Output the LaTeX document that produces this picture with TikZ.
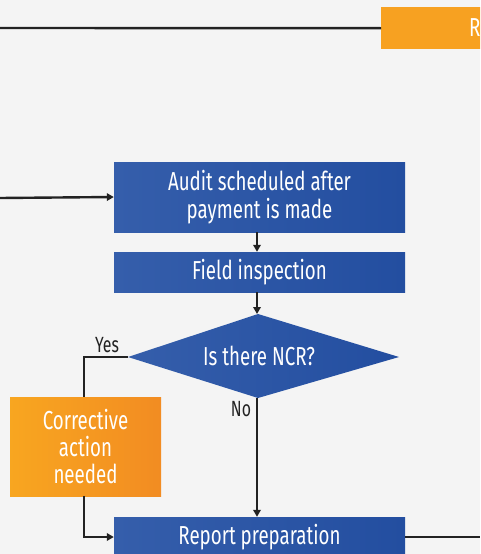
\documentclass[tikz,border=0pt]{standalone}
\usepackage{fontspec}
\setmainfont{Fira Sans}[FakeStretch=0.72]
\usetikzlibrary{arrows.meta,positioning}
\definecolor{bg}{RGB}{244,244,244}
\definecolor{blueL}{RGB}{53,94,171}
\definecolor{blueR}{RGB}{35,78,160}
\definecolor{orL}{RGB}{248,166,32}
\definecolor{orR}{RGB}{242,140,34}
\definecolor{orTop}{RGB}{247,161,33}
\definecolor{ink}{RGB}{34,34,34}
\tikzset{
  bluebox/.style={rectangle, left color=blueL, right color=blueR, draw=none,
    text=white, align=center, font=\fontsize{26}{28}\selectfont, inner sep=0pt},
  orangebox/.style={rectangle, left color=orL, right color=orR, draw=none,
    text=white, align=center, font=\fontsize{26}{27}\selectfont, inner sep=0pt},
  conn/.style={draw=ink, line width=2.4pt},
  arr/.style={conn, -{Triangle[length=7pt,width=7.5pt]}},
  lbl/.style={text=ink, font=\fontsize{22}{24}\selectfont, inner sep=0pt}
}
\begin{document}
\begin{tikzpicture}[x=1pt,y=1pt]
\useasboundingbox (0,0) rectangle (480,-554);
\clip (0,0) rectangle (480,-554);
\fill[bg] (0,0) rectangle (480,-554);

% top right orange box (cut off)
\node[rectangle, fill=orTop, minimum width=120pt, minimum height=42pt, anchor=north west, inner sep=0pt] (top) at (381,-7) {};
\node[text=white, font=\fontsize{26}{28}\selectfont, anchor=west, inner sep=0pt] (toptext) at (469,-28) {R};
\coordinate (topin) at (0,-28);
\draw[conn] (topin) -- (top.west);

% main boxes
\node[bluebox, minimum width=291pt, minimum height=70pt] (audit) at (259.5,-197) {Audit scheduled after\\payment is made};
\coordinate (auditin) at (0,-198);
\draw[arr] (auditin) -- (audit.west);

\node[bluebox, minimum width=291pt, minimum height=40pt] (field) at (259.5,-272) {Field inspection};
\draw[arr] (audit.south -| 257,0) -- (field.north -| 257,0);

% decision diamond
\coordinate (dT) at (258,-314);
\coordinate (dB) at (258,-398);
\coordinate (dL) at (128,-357);
\coordinate (dR) at (399,-357);
\shade[left color=blueL, right color=blueR] (dT) -- (dR) -- (dB) -- (dL) -- cycle;
\node[text=white, font=\fontsize{26}{28}\selectfont, inner sep=0pt] (ncr) at (259,-356) {Is there NCR?};
\draw[arr] (field.south -| 257,0) -- (dT -| 257,0);

% corrective action
\node[orangebox, minimum width=151pt, minimum height=99pt] (corr) at (85.5,-446.5) {Corrective\\action\\needed};
\draw[conn] (dL) -| (corr.north -| 84,0);

% report
\node[bluebox, minimum width=291pt, minimum height=40pt] (report) at (259.5,-537) {Report preparation};
\draw[arr] (dB -| 257,0) -- (report.north -| 257,0);
\draw[arr] (corr.south -| 84,0) |- (report.west);
\coordinate (repout) at (480,-537);
\draw[conn] (report.east) -- (repout);

% labels
\node[lbl] (yes) at (107,-345) {Yes};
\node[lbl] (no) at (241,-409) {No};
\end{tikzpicture}
\end{document}
